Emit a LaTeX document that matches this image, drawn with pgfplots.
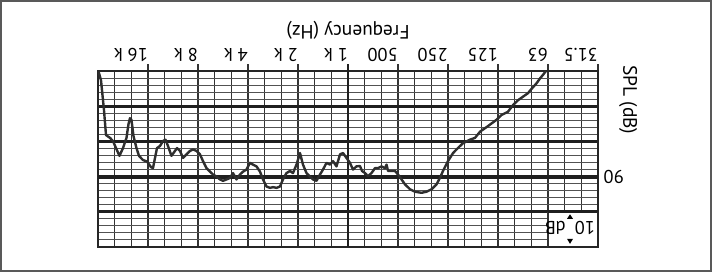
\documentclass[border=0pt]{standalone}
\usepackage{pgfplots}
\pgfplotsset{compat=1.18}
\usepackage{fontspec}
\setmainfont{PT Sans}
\newcommand{\lf}{\fontsize{18.5}{22}\selectfont}
\newcommand{\tf}{\fontsize{19.5}{23}\selectfont}
\begin{document}
\begin{tikzpicture}[font=\lf]
\begin{axis}[
 name=ax,
 width=500bp, height=176bp, scale only axis,
 xmode=log,
 xmin=31.25, xmax=32000, ymin=60, ymax=110,
 x dir=reverse, y dir=reverse,
 clip=false,
 axis line style={line width=2.2bp, draw=black!85},
 xtick={31.25,62.5,125,250,500,2000,4000,8000,16000},
 xticklabels={31.5,63,125,250,500,2 k,4 k,8 k,16 k},
 extra x ticks={1000}, extra x tick labels={1 k},
 extra x tick style={major x grid style={line width=2.7bp, black!88}, major tick style={line width=2.7bp, black!88}},
 minor xtick={39.37,49.61,78.75,99.21,157.5,198.4,315,396.9,630,793.7,1260,1587,2520,3175,5040,6350,10079,12699,20159,25398},
 xtick pos=right, tick align=outside, major tick length=7bp, minor tick length=0pt,
 tick style={black!80, line width=1.1bp},
 ytick={60,70,80,90,100,110},
 yticklabels={,,,90,,},
 extra y ticks={90}, extra y tick labels={},
 extra y tick style={major y grid style={line width=4bp, black!88}},
 minor y tick num=4,
 ytick pos=right,
 ytick style={draw=none},
 grid=both,
 major x grid style={line width=1.2bp, black!80},
 minor x grid style={line width=1.2bp, black!80},
 major y grid style={line width=2.7bp, black!88},
 minor y grid style={line width=1bp, black!68},
 xticklabel style={font=\lf, yshift=2.5bp, rotate=180, anchor=north west, inner sep=0pt},
 yticklabel style={font=\lf, xshift=-1.5bp, rotate=180, anchor=east, inner sep=0pt},
]
\fill[white] (axis cs:31.25,100) rectangle (axis cs:62.5,110);
\draw[black!80, line width=1.2bp] (axis cs:62.5,100) -- (axis cs:62.5,110);
\draw[black!88, line width=2.7bp] (axis cs:31.25,100) -- (axis cs:62.5,100);
\draw[black!85, line width=2.2bp] (axis cs:31.25,100) -- (axis cs:31.25,110) -- (axis cs:62.5,110);
\coordinate (tc) at (axis cs:46.07,104.7);
\node[rotate=180, inner sep=0pt, font=\lf] at (axis cs:46.07,104.7) {10\hspace{0.5em}dB};
\node[rotate=180, font=\tf] at (axis cs:1000,48.3) {Frequency (Hz)};
\node[rotate=-90, font=\tf] at (axis cs:20.6,68.2) {SPL (dB)};
\addplot[line width=2.4bp, black!82, line join=round] table {
31779 60.1
30696 62.6
29446 71.1
28638 78.2
27090 79.0
25992 79.9
24933 81.9
23752 84.1
22627 81.9
21556 79.0
20966 75.1
20535 73.4
20112 73.9
19562 78.5
18766 81.9
18126 84.1
17148 85.3
16223 85.7
15348 87.3
14929 87.6
14520 84.7
14123 81.9
13545 81.3
12996 79.9
12553 79.5
12126 81.3
11551 84.1
11004 82.7
10703 81.9
10268 82.7
9849 84.7
9383 83.7
8938 82.7
8574 82.3
8168 82.7
7781 83.7
7464 85.6
7111 87.6
6772 88.6
6498 89.4
6190 90.0
5897 90.8
5657 91.2
5389 90.8
5134 90.4
4925 89.0
4691 90.8
4469 89.4
4287 88.6
4084 88.0
3891 86.1
3732 86.6
3555 87.1
3386 88.6
3249 90.8
3095 92.8
2949 93.2
2828 93.0
2694 93.2
2567 92.8
2462 90.8
2346 89.0
2234 88.4
2144 89.0
2042 86.6
1945 83.3
1866 86.6
1778 89.0
1693 90.0
1625 90.8
1548 91.2
1474 89.4
1414 88.0
1347 86.1
1283 86.6
1231 85.6
1173 87.1
1117 83.7
1072 83.3
1021 84.7
973 86.1
933 88.0
889 87.1
847 87.0
823 88.4
790 89.0
758 89.9
722 89.0
688 87.6
660 87.6
629 87.1
599 87.6
586 86.6
574 88.4
547 88.4
521 88.4
500 89.4
476 90.8
454 92.2
423 93.6
395 94.3
361 94.6
337 94.3
314 93.6
293 92.2
279 90.3
268 88.4
250 85.6
233 83.3
218 81.9
203 80.5
184 79.5
172 79.0
160 77.2
144 75.7
128 73.9
119 72.5
109 71.6
101.5 69.7
94.7 68.3
88.4 67.3
82.5 66.3
78.6 65.1
73.3 63.5
69.8 62.1
67.0 61.1
64.3 60.0
};
\end{axis}
\fill[black] ([yshift=14bp]tc) -- ++(3bp,-4.5bp) -- ++(-6bp,0bp) -- cycle;
\fill[black] ([yshift=-15.5bp]tc) -- ++(3bp,5bp) -- ++(-6bp,0bp) -- cycle;
\draw[black!65, line width=1.5bp] ([shift={(-97bp,-24bp)}]ax.south west) rectangle ([shift={(113bp,70bp)}]ax.north east);
\pgfresetboundingbox
\useasboundingbox ([shift={(-98bp,-30bp)}]ax.south west) rectangle ([shift={(117bp,71bp)}]ax.north east);
\end{tikzpicture}
\end{document}
